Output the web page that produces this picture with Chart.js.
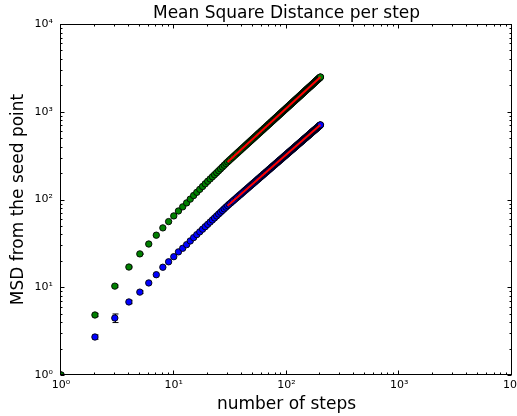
<!DOCTYPE html>
<html><head><meta charset="utf-8">
<script src="https://cdn.jsdelivr.net/npm/chart.js@4.4.1/dist/chart.umd.min.js"></script>
<style>html,body{margin:0;padding:0;background:#fff;}canvas{display:block;}</style>
</head><body>
<canvas id="c" width="517" height="416" style="width:517px;height:416px"></canvas>
<script>
const steps = [1,2,3,4,5,6,7,8,9,10,11,12,13,14,15,16,17,18,19,20,21,22,23,24,25,26,27,28,29,30,
  31,32,33,34,35,36,37,38,39,40,41,42,43,44,45,46,47,48,49,50,51,52,53,54,55,56,57,58,59,60,
  61,62,63,64,65,66,67,68,69,70,71,72,73,74,75,76,77,78,79,80,81,82,83,84,85,86,87,88,89,90,
  91,92,93,94,95,96,97,98,99,100,101,102,103,104,105,106,107,108,109,110,111,112,113,114,115,116,117,118,119,120,
  121,122,123,124,125,126,127,128,129,130,131,132,133,134,135,136,137,138,139,140,141,142,143,144,145,146,147,148,149,150,
  151,152,153,154,155,156,157,158,159,160,161,162,163,164,165,166,167,168,169,170,171,172,173,174,175,176,177,178,179,180,
  181,182,183,184,185,186,187,188,189,190,191,192,193,194,195,196,197,198,199,200];
const greenMSD = [1,4.83,10.3,17.0,24.0,31.1,39.2,47.5,56,65,74,82.5,91.5,101,111,120.7,130.6,140.7,150.9,161.3,
  171.4,181.6,191.8,202.2,212.8,223.5,234.5,245.5,256.7,268,
  278.5,289.1,299.7,310.5,321.2,332.0,342.9,353.8,364.8,375.8,386.9,398.0,409.2,420.3,431.5,442.8,454.2,465.6,477.0,488.4,
  500.0,511.5,523.0,534.6,546.3,558.0,569.8,581.5,593.3,605.1,617.0,628.9,640.8,652.8,664.8,676.8,688.9,701.0,713.2,725.3,
  737.5,749.7,762.0,774.2,786.5,798.8,811.2,823.6,836.0,848.5,861,873.5,886,898.5,911,923.6,936.2,948.8,961.4,974,
  986.8,999.6,1012.4,1025.2,1038,1051,1064,1077,1090,1103,1116,1129,1142,1155,1168,1181,1194,1207,1220,1233,
  1246,1259,1273,1286,1299,1312,1326,1339,1353,1366,1379,1393,1406,1420,1433,1447,1460,1474,1487,1501,
  1515,1528,1542,1555,1569,1583,1596,1610,1623,1637,1651,1665,1678,1692,1706,1720,1734,1748,1762,1776,
  1790,1804,1818,1832,1846,1860,1874,1888,1902,1916,1930,1944,1958,1972,1986,2000,2014,2029,2043,2057,
  2071,2085,2100,2114,2128,2142,2157,2171,2186,2200,2214,2229,2243,2258,2272,2287,2301,2316,2330,2345,
  2359,2374,2388,2403,2417,2432,2446,2461,2475,2490];
const blueMSD = [1,2.71,4.46,6.8,8.8,11.2,13.9,16.9,19.5,22.3,25.3,27.8,30.6,33.7,36.8,39.8,42.8,45.9,49.0,52.1,
  55.3,58.5,61.7,65.0,68.3,71.6,74.9,78.3,81.7,85.1,
  88.3,91.5,94.7,97.9,101.1,104.4,107.6,110.9,114.1,117.4,120.7,124.0,127.3,130.6,134.0,137.3,140.6,143.9,147.3,150.6,
  154.0,157.4,160.8,164.2,167.6,171.0,174.4,177.8,181.3,184.7,188.2,191.6,195.1,198.5,202.0,205.4,208.9,212.4,215.9,219.4,
  222.9,226.4,230.0,233.5,237.0,240.5,244.1,247.6,251.2,254.7,258.3,261.8,265.4,268.9,272.5,276.1,279.7,283.2,286.8,290.4,
  294.0,297.7,301.3,305.0,308.6,312.3,315.9,319.6,323.2,326.9,330.6,334.2,337.9,341.5,345.2,348.9,352.5,356.2,359.8,363.5,
  367.2,370.9,374.7,378.4,382.1,385.8,389.5,393.2,396.9,400.6,404.3,408.1,411.8,415.6,419.3,423.1,426.8,430.6,434.3,438.1,
  441.9,445.7,449.4,453.2,457.0,460.8,464.6,468.3,472.1,475.9,479.7,483.5,487.3,491.1,494.9,498.7,502.6,506.4,510.3,514.1,
  517.9,521.8,525.6,529.5,533.3,537.1,541.0,544.8,548.7,552.5,556.4,560.3,564.1,568.0,571.9,575.8,579.7,583.5,587.4,591.3,
  595.2,599.1,602.9,606.9,610.8,614.7,618.6,622.4,626.3,630.2,634.1,638.0,642.0,645.9,649.8,653.7,657.7,661.6,665.6,669.5,
  673.4,677.4,681.3,685.3,689.2,693.2,697.1,701.1,705.0,709.0];
const fitSteps = [30, 200];
const greenFit = [268, 2490];
const blueFit = [85.1, 709];
const errSteps = [2, 3, 4, 5];
const greenErr = [0.2, 0.3, 0.4, 0.4];
const blueErr = [0.15, 0.5, 0.3, 0.3];
const decadeTicks = [1, 10, 100, 1000, 10000];
const tickLabels = ['10\u2070', '10\u00B9', '10\u00B2', '10\u00B3', '10\u2074'];

const toPts = (xs, ys) => xs.map((x, i) => ({x: x, y: ys[i]}));
const FONT = "'DejaVu Sans', sans-serif";

const deco = {
  id: 'deco',
  beforeDatasetsDraw(chart) {
    const ctx = chart.ctx, xs = chart.scales.x, ys = chart.scales.y;
    ctx.save();
    ctx.strokeStyle = '#000'; ctx.lineWidth = 1;
    const drawErr = (vals, errs) => {
      errSteps.forEach((s, i) => {
        const idx = steps.indexOf(s);
        const v = vals[idx], e = errs[i];
        const px = Math.round(xs.getPixelForValue(s)) + 0.5;
        const y1 = ys.getPixelForValue(v + e), y2 = ys.getPixelForValue(v - e);
        ctx.beginPath();
        ctx.moveTo(px, y1); ctx.lineTo(px, y2);
        ctx.moveTo(px - 3, y1); ctx.lineTo(px + 3, y1);
        ctx.moveTo(px - 3, y2); ctx.lineTo(px + 3, y2);
        ctx.stroke();
      });
    };
    drawErr(blueMSD, blueErr);
    drawErr(greenMSD, greenErr);
    ctx.restore();
  },
  afterDatasetsDraw(chart) {
    const ctx = chart.ctx, a = chart.chartArea, xs = chart.scales.x, ys = chart.scales.y;
    const x0 = Math.round(a.left) - 0.5, x1 = Math.round(a.right) - 0.5;
    const y0 = Math.round(a.top) + 0.5, y1 = Math.round(a.bottom) - 0.5;
    ctx.save();
    ctx.strokeStyle = '#000'; ctx.lineWidth = 1;
    ctx.strokeRect(x0, y0, x1 - x0, y1 - y0);
    ctx.beginPath();
    for (let n = 0; n <= 4; n++) {
      for (let k = 1; k <= 9; k++) {
        const v = k * Math.pow(10, n);
        if (v > 10000) break;
        const L = (k === 1) ? 4 : 2;
        const px = Math.round(xs.getPixelForValue(v)) - 0.5;
        ctx.moveTo(px, y1); ctx.lineTo(px, y1 - L);
        ctx.moveTo(px, y0); ctx.lineTo(px, y0 + L);
        const py = Math.round(ys.getPixelForValue(v)) + 0.5;
        ctx.moveTo(x0, py); ctx.lineTo(x0 + L, py);
        ctx.moveTo(x1, py); ctx.lineTo(x1 - L, py);
      }
    }
    ctx.stroke();
    ctx.restore();
  }
};

const decadeBuild = (scale) => { scale.ticks = decadeTicks.map(v => ({value: v})); };
const labelFor = (v) => { const i = decadeTicks.indexOf(v); return i >= 0 ? tickLabels[i] : ''; };

new Chart(document.getElementById('c'), {
  type: 'scatter',
  data: {
    datasets: [
      {label: 'fit green', type: 'line', data: toPts(fitSteps, greenFit), borderColor: '#ff0000', borderWidth: 2, pointRadius: 0, fill: false, order: 0, clip: 0},
      {label: 'fit blue', type: 'line', data: toPts(fitSteps, blueFit), borderColor: '#ff0000', borderWidth: 2, pointRadius: 0, fill: false, order: 0, clip: 0},
      {label: 'green', data: toPts(steps, greenMSD), backgroundColor: '#008000', borderColor: '#000', borderWidth: 0.9, pointRadius: 3.2, order: 1, clip: 0},
      {label: 'blue', data: toPts(steps, blueMSD), backgroundColor: '#0000ff', borderColor: '#000', borderWidth: 0.9, pointRadius: 3.2, order: 2, clip: 0}
    ]
  },
  options: {
    responsive: false,
    animation: false,
    devicePixelRatio: 1,
    layout: {padding: {left: 0, right: 4, top: 0, bottom: 0}},
    plugins: {
      legend: {display: false},
      tooltip: {enabled: false},
      title: {display: true, fullSize: false, text: 'Mean Square Distance per step', color: '#000',
        font: {family: FONT, size: 17, weight: 'normal', lineHeight: 1.2}, padding: {top: 3.3, bottom: 0.3}}
    },
    scales: {
      x: {
        type: 'logarithmic', min: 1, max: 10000, position: 'bottom',
        grid: {display: false, drawTicks: false}, border: {display: false},
        afterBuildTicks: decadeBuild,
        afterFit: (s) => { s.height = 41; s.paddingLeft = 0; s.paddingRight = 0; },
        ticks: {color: '#000', font: {family: FONT, size: 11}, padding: 4, maxRotation: 0, autoSkip: false, callback: labelFor},
        title: {display: true, text: 'number of steps', color: '#000', font: {family: FONT, size: 17}, padding: {top: 0, bottom: 1}}
      },
      y: {
        type: 'logarithmic', min: 1, max: 10000, position: 'left',
        grid: {display: false, drawTicks: false}, border: {display: false},
        afterBuildTicks: decadeBuild,
        afterFit: (s) => { s.width = 61; s.paddingTop = 0; s.paddingBottom = 0; },
        ticks: {color: '#000', font: {family: FONT, size: 11}, padding: 8, autoSkip: false, callback: labelFor},
        title: {display: true, text: 'MSD from the seed point', color: '#000', font: {family: FONT, size: 17}, padding: {top: 8, bottom: 0}}
      }
    }
  },
  plugins: [deco]
});
</script>
</body></html>
